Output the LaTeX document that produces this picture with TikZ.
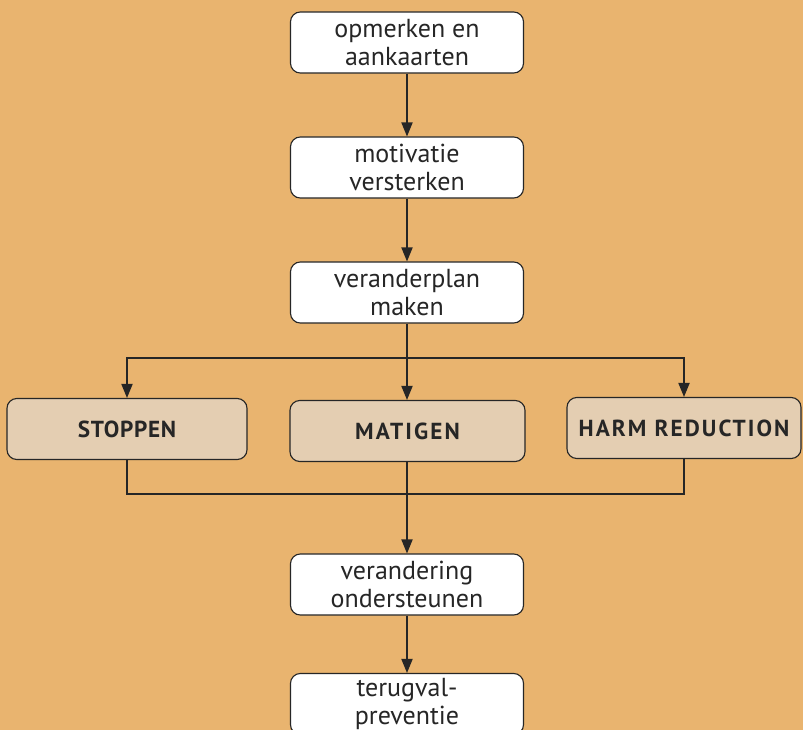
\documentclass[tikz,border=0pt]{standalone}
\usepackage{fontspec}
\setmainfont{PT Sans}
\usepackage{xcolor}
\usepackage{tikz}
\usetikzlibrary{arrows.meta}

\definecolor{bgtan}{HTML}{E9B46F}
\definecolor{boxtan}{HTML}{E4CEB2}
\definecolor{ink}{HTML}{262626}

\begin{document}
\begin{tikzpicture}[
  x=0.025cm, y=-0.025cm,
  font=\fontsize{18.5}{19.3}\selectfont, >={Triangle[length=10pt,width=8pt]},
  stap/.style={draw=ink, fill=white, rounded corners=7pt, align=center, text=ink, minimum width=5.825cm, minimum height=1.525cm, inner sep=1pt, line width=0.8pt},
  keuze/.style={stap, fill=boxtan, minimum width=5.875cm, font=\fontsize{16.5}{18}\selectfont\bfseries\addfontfeatures{LetterSpace=#1}},
  keuze/.default=9,
  flow/.style={->, line width=0.9pt, draw=ink},
  lijn/.style={line width=0.9pt, draw=ink},
]
\fill[bgtan] (0,0) rectangle (803,730);
\useasboundingbox (0,0) rectangle (803,730);
\node[stap] (opm) at (407,42.5) {opmerken en\\aankaarten};
\node[stap] (mot) at (407,167.5) {motivatie\\versterken};
\node[stap] (plan) at (407,292.5) {veranderplan\\maken};
\node[keuze=3, minimum width=6cm] (stop) at (127,429) {STOPPEN};
\node[keuze] (mat) at (407.5,431) {MATIGEN};
\node[keuze, minimum width=5.85cm] (harm) at (684,428) {HARM REDUCTION};
\node[stap] (ver) at (407,584.5) {verandering\\ondersteunen};
\node[stap] (terug) at (407,704) {terugval-\\preventie};
\coordinate (split) at (407,358);
\coordinate (samen) at (407,494);
\draw[flow] (opm) -- (mot); \draw[flow] (mot) -- (plan);
\draw[flow] (plan.south) -- (plan.south |- mat.north);
\draw[flow] (split) -| (stop.north);
\draw[flow] (split) -| (harm.north);
\draw[lijn] (stop.south) |- (samen);
\draw[lijn] (harm.south) |- (samen);
\draw[flow] (mat.south -| samen) -- (ver.north);
\draw[flow] (ver) -- (terug);
\end{tikzpicture}
\end{document}
